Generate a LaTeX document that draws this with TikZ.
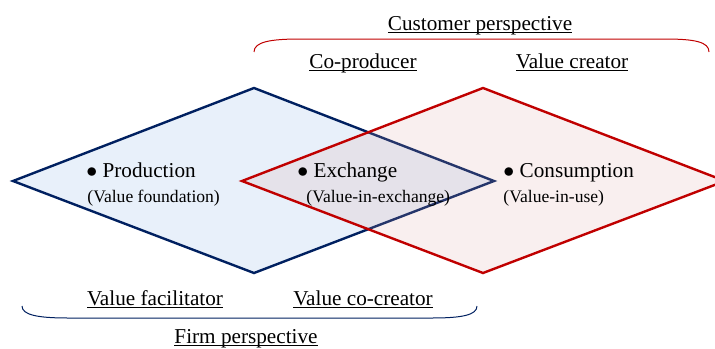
\documentclass[tikz,border=0pt]{standalone}
\usepackage{fontspec}
\setmainfont{Liberation Serif}
\newcommand{\ulinetext}[1]{{\setbox0\hbox{#1}\rlap{\rule[-1.3pt]{\wd0}{0.5pt}}\box0}}
\definecolor{firmblue}{RGB}{0,32,96}
\definecolor{custred}{RGB}{192,0,0}
\definecolor{firmfill}{RGB}{232,240,250}
\definecolor{custfill}{RGB}{220,161,161}

\begin{document}
\begin{tikzpicture}[x=0.5pt,y=-0.5pt,
	big/.style={font=\fontsize{10.6}{13}\selectfont,inner sep=0pt},
	small/.style={font=\fontsize{8.8}{11}\selectfont,inner sep=0pt}]
	\useasboundingbox (0,0) rectangle (715,348);
	% diamonds
	\draw[firmblue,line width=1.2pt,fill=firmfill,line join=miter]
	(13,181) -- (254,88) -- (494,181) -- (254,273) -- cycle;
	\draw[custred,line width=1.2pt,fill=custfill,fill opacity=0.17,line join=miter]
	(242,181) -- (483,88) -- (725,181) -- (483,273) -- cycle;
	% braces
	\draw[custred,line width=0.5pt]
	(254,52) .. controls (254,42) and (270,39) .. (300,39) -- (665,39)
	.. controls (695,39) and (709,42) .. (709,52);
	\draw[firmblue,line width=0.5pt]
	(22,306) .. controls (22,315) and (38,318) .. (68,318) -- (432,318)
	.. controls (462,318) and (477,315) .. (477,306);
	% labels
	\node[big,anchor=base] (cust) at (480,30) {\ulinetext{Customer perspective}};
	\node[big,anchor=base] (coprod) at (363,68) {\ulinetext{Co-producer}};
	\node[big,anchor=base] (vcreat) at (572,68) {\ulinetext{Value creator}};
	\node[big,anchor=base] (vfacil) at (155,305) {\ulinetext{Value facilitator}};
	\node[big,anchor=base] (vcocre) at (363,305) {\ulinetext{Value co-creator}};
	\node[big,anchor=base] (firm) at (246,343) {\ulinetext{Firm perspective}};
	\node[big,anchor=base west] (prod) at (86,177) {$\bullet$ Production};
	\node[small,anchor=base west] (prodv) at (87,202) {(Value foundation)};
	\node[big,anchor=base west] (exch) at (297,177) {$\bullet$ Exchange};
	\node[small,anchor=base west] (exchv) at (306,202) {(Value-in-exchange)};
	\node[big,anchor=base west] (cons) at (503,177) {$\bullet$ Consumption};
	\node[small,anchor=base west] (consv) at (503,202) {(Value-in-use)};
\end{tikzpicture}
\end{document}
